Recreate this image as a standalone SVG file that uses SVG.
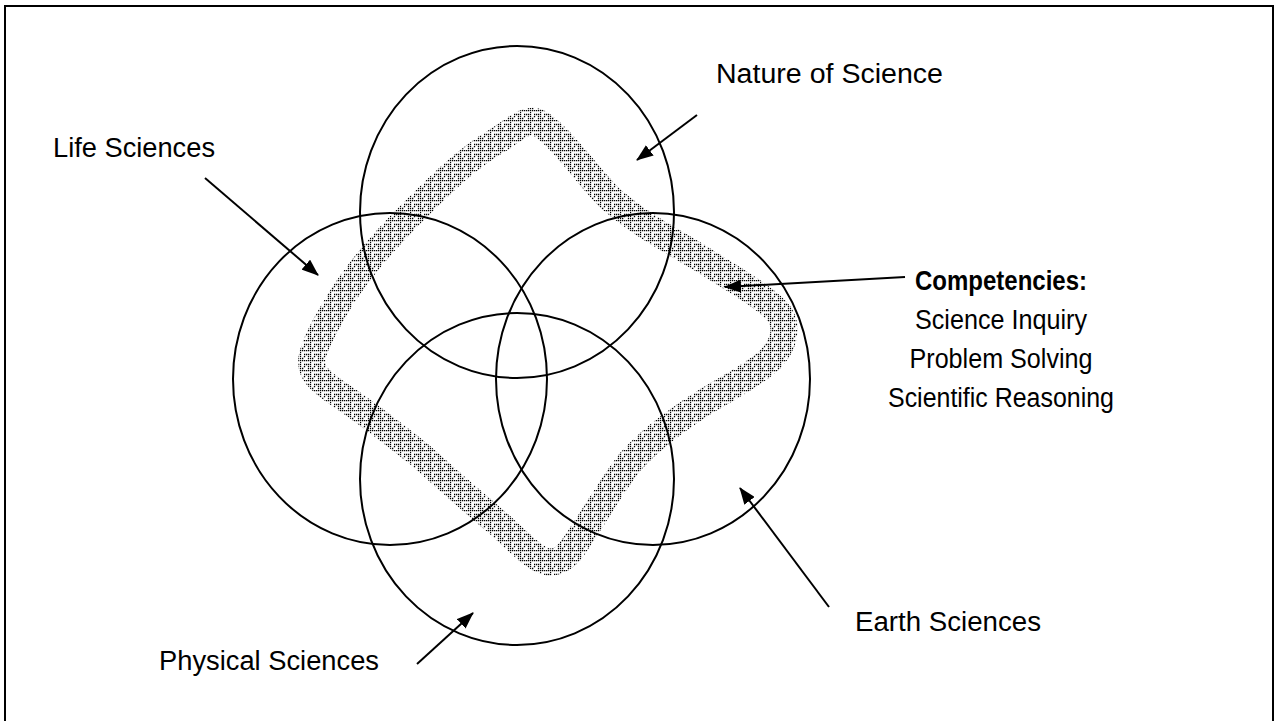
<svg xmlns="http://www.w3.org/2000/svg" width="1275" height="721" viewBox="0 0 1275 721">
  <style>
    .lbl { font-family: "Liberation Sans", Arial, sans-serif; font-size: 27px; fill: #000; }
    .bold { font-weight: bold; }
    .circ { fill: none; stroke: #000; stroke-width: 2; }
    .arrow { stroke: #000; stroke-width: 2; fill: none; marker-end: url(#head); }
  </style>
  <defs>
    <marker id="head" markerUnits="userSpaceOnUse" markerWidth="17" markerHeight="13" refX="16" refY="6.5" orient="auto">
      <path d="M0 0 L17 6.5 L0 13 Z" fill="#000"/>
    </marker>
    <pattern id="key" patternUnits="userSpaceOnUse" width="10" height="10">
      <g stroke="#000" stroke-width="1.3" stroke-dasharray="1.3 0.7" fill="none">
        <path d="M0 0.5 H10"/>
        <path d="M0.5 2 V10"/>
        <path d="M4 4.5 H10"/>
        <path d="M4.5 6 V8"/>
        <path d="M8.5 6 V10"/>
        <path d="M2 8.5 H4"/>
      </g>
    </pattern>
  </defs>
  <rect x="5" y="6" width="1268" height="730" fill="#fff" stroke="#000" stroke-width="2"/>

  <g id="competency-band">
    <path d="M537 122 C560 134 590 180 612 200 C640 224 660 234 700 258 C735 280 770 300 780 315 C790 332 780 352 765 364 C745 380 720 392 700 405 C670 425 650 440 630 462 C612 485 595 515 578 540 C568 556 560 563 548 562 C535 560 520 543 500 525 C480 508 450 482 420 455 C395 435 370 415 340 395 C318 380 310 372 312 358 C314 345 325 325 340 300 C360 268 385 240 410 215 C440 185 465 160 495 142 C515 130 525 118 537 122 Z" fill="none" stroke="url(#key)" stroke-width="27" stroke-linejoin="round"/>
  </g>

  <g id="nature-of-science">
    <ellipse class="circ" cx="517" cy="212" rx="157" ry="166"/>
    <text class="lbl" x="716" y="83" textLength="227" lengthAdjust="spacingAndGlyphs">Nature of Science</text>
  </g>
  <g id="life-sciences">
    <ellipse class="circ" cx="390" cy="379" rx="157" ry="166"/>
    <text class="lbl" x="53" y="157" textLength="162" lengthAdjust="spacingAndGlyphs">Life Sciences</text>
  </g>
  <g id="earth-sciences">
    <ellipse class="circ" cx="653" cy="379" rx="157" ry="166"/>
    <text class="lbl" x="855" y="631" textLength="186" lengthAdjust="spacingAndGlyphs">Earth Sciences</text>
  </g>
  <g id="physical-sciences">
    <ellipse class="circ" cx="517" cy="479" rx="157" ry="166"/>
    <text class="lbl" x="159" y="670" textLength="220" lengthAdjust="spacingAndGlyphs">Physical Sciences</text>
  </g>
  <g id="competencies">
    <text class="lbl bold" x="1001" y="290" text-anchor="middle" textLength="172" lengthAdjust="spacingAndGlyphs">Competencies:</text>
    <text class="lbl" x="1001" y="329" text-anchor="middle" textLength="172" lengthAdjust="spacingAndGlyphs">Science Inquiry</text>
    <text class="lbl" x="1001" y="368" text-anchor="middle" textLength="183" lengthAdjust="spacingAndGlyphs">Problem Solving</text>
    <text class="lbl" x="1001" y="407" text-anchor="middle" textLength="226" lengthAdjust="spacingAndGlyphs">Scientific Reasoning</text>
  </g>

  <g id="connectors">
    <line class="arrow" x1="205" y1="178" x2="318" y2="275"/>
    <line class="arrow" x1="697" y1="115" x2="637" y2="160"/>
    <line class="arrow" x1="905" y1="277" x2="725" y2="287"/>
    <line class="arrow" x1="829" y1="607" x2="740" y2="488"/>
    <line class="arrow" x1="417" y1="664" x2="473" y2="613"/>
  </g>
</svg>
